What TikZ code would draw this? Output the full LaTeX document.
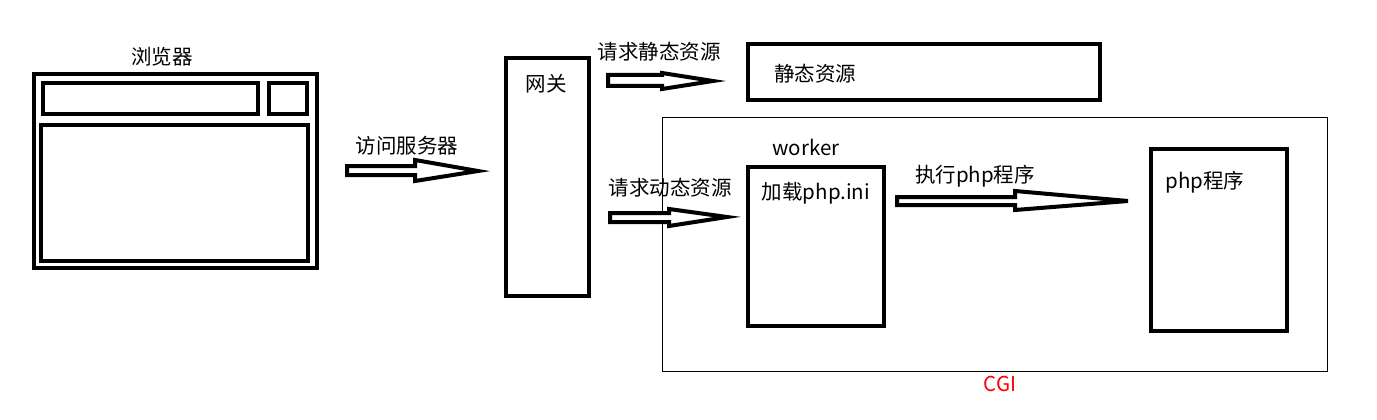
\documentclass[tikz,border=0pt]{standalone}
\usepackage{fontspec}
\setmainfont{Noto Sans CJK SC}
\begin{document}
\begin{tikzpicture}[x=1pt,y=-1pt,
  thickbox/.style={draw,line width=4pt,inner sep=0pt},
  thinbox/.style={draw,line width=1pt,inner sep=0pt},
  lbl/.style={inner sep=0pt,font=\fontsize{20.5pt}{24pt}\selectfont},
  blockarrow/.style={draw,line width=4pt,fill=white,line join=miter}]
\path[use as bounding box] (0,0) rectangle (1377,420);
% browser
\node[thickbox,minimum width=283pt,minimum height=194pt] (browser) at (175.5,171) {};
\node[thickbox,minimum width=215pt,minimum height=31pt] (addr) at (150.5,98.5) {};
\node[thickbox,minimum width=38pt,minimum height=31pt] (btn) at (288,98.5) {};
\node[thickbox,minimum width=267pt,minimum height=136pt] (page) at (174.5,193) {};
\node[lbl] (browserlbl) at (162,57) {浏览器};
% gateway
\node[thickbox,minimum width=83pt,minimum height=238pt] (gw) at (547.5,177) {};
\node[lbl] (gwlbl) at (546,84) {网关};
% static
\node[thickbox,minimum width=352pt,minimum height=56pt] (static) at (924,72) {};
\node[lbl] (staticlbl) at (815,74) {静态资源};
% CGI
\node[thinbox,minimum width=665pt,minimum height=254pt] (cgi) at (995,244.5) {};
\node[lbl,text=red] (cgilbl) at (1000,384) {CGI};
% worker
\node[thickbox,minimum width=136pt,minimum height=159pt] (worker) at (816,246.5) {};
\node[lbl] (workerlbl) at (806,147) {worker};
\node[lbl] (workertxt) at (816,193) {加载php.ini};
% php
\node[thickbox,minimum width=136pt,minimum height=182pt] (php) at (1219,240) {};
\node[lbl] (phplbl) at (1205,182) {php程序};
% arrow labels
\node[lbl] (a1lbl) at (407,146) {访问服务器};
\node[lbl] (a2lbl) at (659,52) {请求静态资源};
\node[lbl] (a3lbl) at (670,188) {请求动态资源};
\node[lbl] (a4lbl) at (975,176) {执行php程序};
% block arrows
\draw[blockarrow] (347,166) -- (415,166) -- (415,160) -- (478,171) -- (415,181) -- (415,175) -- (347,175) -- cycle;
\draw[blockarrow] (608,75) -- (662,75) -- (662,73) -- (713,81) -- (662,89) -- (662,86) -- (608,86) -- cycle;
\draw[blockarrow] (610,213) -- (669,213) -- (669,209) -- (727,217) -- (669,226) -- (669,222) -- (610,222) -- cycle;
\draw[blockarrow] (897,197) -- (1015,197) -- (1015,191) -- (1128,201) -- (1015,210) -- (1015,205) -- (897,205) -- cycle;
\end{tikzpicture}
\end{document}
